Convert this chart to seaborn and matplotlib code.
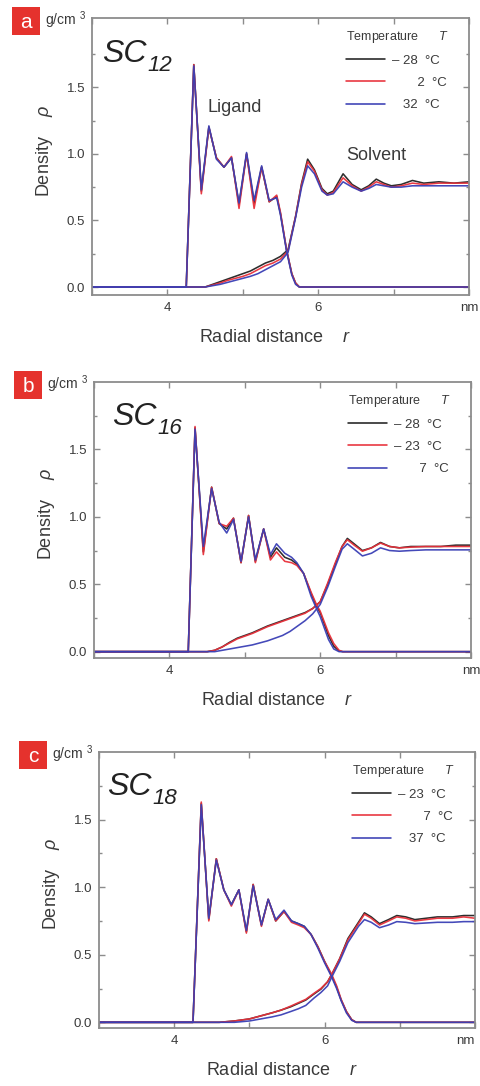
import numpy as np
import pandas as pd
import matplotlib
matplotlib.use("Agg")
import matplotlib.pyplot as plt
import seaborn as sns
from matplotlib.lines import Line2D
from matplotlib.patches import Rectangle
from matplotlib.ticker import FixedLocator, FixedFormatter

# ---------------- data ----------------
colors = ["#222222", "#e8303a", "#3a3fb5"]

# Panel a : SC12
a_temps = ["\u2013 28", "2", "32"]
a_lig_r = [3.0, 4.25, 4.35, 4.45, 4.55, 4.65, 4.75, 4.85, 4.95, 5.05, 5.15, 5.25, 5.35, 5.45, 5.5, 5.58, 5.65, 5.7, 5.75, 8.0]
a_lig_0 = [0, 0, 1.67, 0.72, 1.20, 0.97, 0.90, 0.97, 0.62, 1.00, 0.63, 0.90, 0.64, 0.68, 0.55, 0.28, 0.10, 0.03, 0, 0]
a_lig_1 = [0, 0, 1.67, 0.70, 1.20, 0.97, 0.90, 0.98, 0.59, 1.00, 0.59, 0.90, 0.64, 0.69, 0.56, 0.28, 0.10, 0.03, 0, 0]
a_lig_2 = [0, 0, 1.66, 0.73, 1.21, 0.96, 0.90, 0.97, 0.63, 1.01, 0.65, 0.91, 0.65, 0.67, 0.54, 0.27, 0.09, 0.02, 0, 0]
a_sol_r = [3.0, 4.5, 4.6, 4.7, 4.8, 4.9, 5.0, 5.1, 5.2, 5.3, 5.4, 5.5, 5.6, 5.7, 5.78, 5.86, 5.95, 6.05, 6.12, 6.2, 6.33, 6.45, 6.57, 6.67, 6.77, 6.87, 6.97, 7.1, 7.25, 7.4, 7.6, 7.8, 8.0]
a_sol_0 = [0, 0, 0.02, 0.04, 0.06, 0.08, 0.10, 0.12, 0.15, 0.18, 0.20, 0.23, 0.28, 0.53, 0.78, 0.96, 0.88, 0.74, 0.70, 0.72, 0.85, 0.77, 0.73, 0.76, 0.81, 0.78, 0.76, 0.77, 0.80, 0.78, 0.79, 0.78, 0.79]
a_sol_1 = [0, 0, 0.015, 0.03, 0.05, 0.065, 0.08, 0.10, 0.13, 0.16, 0.18, 0.21, 0.27, 0.53, 0.77, 0.94, 0.87, 0.73, 0.69, 0.71, 0.82, 0.76, 0.72, 0.75, 0.79, 0.77, 0.75, 0.76, 0.78, 0.77, 0.78, 0.78, 0.78]
a_sol_2 = [0, 0, 0.01, 0.02, 0.035, 0.05, 0.065, 0.08, 0.10, 0.13, 0.16, 0.19, 0.26, 0.52, 0.75, 0.91, 0.85, 0.72, 0.69, 0.70, 0.79, 0.75, 0.72, 0.74, 0.77, 0.76, 0.75, 0.75, 0.76, 0.76, 0.76, 0.76, 0.76]

# Panel b : SC16
b_temps = ["\u2013 28", "\u2013 23", "7"]
b_lig_r = [3.0, 4.25, 4.34, 4.45, 4.56, 4.66, 4.76, 4.85, 4.95, 5.05, 5.14, 5.25, 5.34, 5.42, 5.53, 5.62, 5.69, 5.78, 5.88, 5.95, 6.0, 6.11, 6.18, 6.25, 6.3, 8.0]
b_lig_0 = [0, 0, 1.66, 0.74, 1.22, 0.95, 0.91, 0.99, 0.66, 1.01, 0.67, 0.91, 0.70, 0.77, 0.70, 0.68, 0.65, 0.58, 0.43, 0.34, 0.29, 0.12, 0.04, 0.005, 0, 0]
b_lig_1 = [0, 0, 1.67, 0.72, 1.22, 0.95, 0.93, 0.99, 0.66, 1.01, 0.66, 0.91, 0.68, 0.74, 0.67, 0.66, 0.64, 0.58, 0.44, 0.35, 0.30, 0.14, 0.06, 0.01, 0, 0]
b_lig_2 = [0, 0, 1.65, 0.78, 1.21, 0.96, 0.88, 0.98, 0.67, 1.00, 0.68, 0.91, 0.72, 0.80, 0.73, 0.70, 0.66, 0.58, 0.41, 0.32, 0.26, 0.09, 0.02, 0, 0, 0]
b_sol_r = [3.0, 4.5, 4.6, 4.7, 4.8, 4.9, 5.0, 5.1, 5.2, 5.3, 5.4, 5.5, 5.6, 5.7, 5.8, 5.9, 6.0, 6.1, 6.2, 6.29, 6.36, 6.45, 6.56, 6.68, 6.8, 6.92, 7.05, 7.2, 7.4, 7.6, 7.8, 8.0]
b_sol_0 = [0, 0, 0.01, 0.035, 0.07, 0.10, 0.12, 0.14, 0.165, 0.19, 0.21, 0.23, 0.25, 0.27, 0.29, 0.32, 0.37, 0.50, 0.65, 0.78, 0.84, 0.80, 0.75, 0.77, 0.81, 0.78, 0.77, 0.78, 0.78, 0.78, 0.79, 0.79]
b_sol_1 = [0, 0, 0.01, 0.035, 0.065, 0.095, 0.115, 0.135, 0.16, 0.185, 0.205, 0.225, 0.245, 0.265, 0.285, 0.32, 0.37, 0.51, 0.66, 0.78, 0.83, 0.79, 0.745, 0.77, 0.805, 0.78, 0.77, 0.775, 0.78, 0.78, 0.78, 0.78]
b_sol_2 = [0, 0, 0, 0.01, 0.02, 0.03, 0.04, 0.05, 0.065, 0.08, 0.10, 0.12, 0.15, 0.19, 0.23, 0.28, 0.35, 0.48, 0.63, 0.76, 0.80, 0.76, 0.71, 0.73, 0.77, 0.75, 0.745, 0.75, 0.755, 0.755, 0.755, 0.755]

# Panel c : SC18
c_temps = ["\u2013 23", "7", "37"]
c_lig_r = [3.0, 4.25, 4.36, 4.46, 4.56, 4.66, 4.76, 4.86, 4.96, 5.05, 5.16, 5.25, 5.35, 5.46, 5.56, 5.65, 5.73, 5.82, 5.91, 6.0, 6.09, 6.16, 6.22, 6.29, 6.36, 6.42, 8.0]
c_lig_0 = [0, 0, 1.62, 0.76, 1.21, 0.98, 0.87, 0.98, 0.67, 1.02, 0.72, 0.91, 0.75, 0.82, 0.75, 0.73, 0.71, 0.65, 0.56, 0.45, 0.35, 0.26, 0.165, 0.08, 0.02, 0, 0]
c_lig_1 = [0, 0, 1.63, 0.75, 1.21, 0.98, 0.86, 0.98, 0.66, 1.02, 0.71, 0.91, 0.75, 0.82, 0.74, 0.72, 0.70, 0.65, 0.56, 0.45, 0.36, 0.27, 0.17, 0.08, 0.02, 0, 0]
c_lig_2 = [0, 0, 1.61, 0.77, 1.20, 0.98, 0.87, 0.98, 0.68, 1.01, 0.72, 0.91, 0.76, 0.83, 0.75, 0.73, 0.71, 0.65, 0.55, 0.44, 0.34, 0.25, 0.16, 0.07, 0.015, 0, 0]
c_sol_r = [3.0, 4.6, 4.8, 5.0, 5.1, 5.2, 5.3, 5.42, 5.55, 5.65, 5.75, 5.86, 5.95, 6.04, 6.1, 6.2, 6.31, 6.45, 6.53, 6.62, 6.73, 6.85, 6.96, 7.08, 7.2, 7.35, 7.5, 7.7, 7.85, 8.0]
c_sol_0 = [0, 0, 0.01, 0.025, 0.04, 0.055, 0.07, 0.09, 0.115, 0.14, 0.165, 0.21, 0.245, 0.30, 0.36, 0.47, 0.62, 0.74, 0.81, 0.78, 0.73, 0.76, 0.79, 0.78, 0.76, 0.77, 0.78, 0.78, 0.79, 0.79]
c_sol_1 = [0, 0, 0.01, 0.025, 0.04, 0.055, 0.07, 0.09, 0.12, 0.145, 0.17, 0.215, 0.25, 0.30, 0.36, 0.47, 0.61, 0.73, 0.80, 0.77, 0.72, 0.75, 0.78, 0.77, 0.75, 0.76, 0.77, 0.77, 0.78, 0.77]
c_sol_2 = [0, 0, 0, 0.01, 0.02, 0.03, 0.04, 0.055, 0.08, 0.10, 0.125, 0.18, 0.22, 0.27, 0.34, 0.45, 0.59, 0.71, 0.76, 0.74, 0.70, 0.72, 0.745, 0.74, 0.73, 0.735, 0.74, 0.74, 0.745, 0.745]

x_ticks = [3, 4, 5, 6, 7, 8]
x_ticklabels = ["", "4", "", "6", "", ""]
y_ticks = [0, 0.5, 1.0, 1.5]
y_ticklabels = ["0.0", "0.5", "1.0", "1.5"]

panels = [
    dict(letter="a", sub="12", temps=a_temps,
         lig=(a_lig_r, [a_lig_0, a_lig_1, a_lig_2]), sol=(a_sol_r, [a_sol_0, a_sol_1, a_sol_2]),
         rect=[92, 18, 469, 295], ylim=(-0.06, 2.02), annot=True, sc_x=102, sc_base=62),
    dict(letter="b", sub="16", temps=b_temps,
         lig=(b_lig_r, [b_lig_0, b_lig_1, b_lig_2]), sol=(b_sol_r, [b_sol_0, b_sol_1, b_sol_2]),
         rect=[94, 382, 471, 658], ylim=(-0.047, 2.0), annot=False, sc_x=112, sc_base=425),
    dict(letter="c", sub="18", temps=c_temps,
         lig=(c_lig_r, [c_lig_0, c_lig_1, c_lig_2]), sol=(c_sol_r, [c_sol_0, c_sol_1, c_sol_2]),
         rect=[99, 752, 475, 1028], ylim=(-0.042, 2.0), annot=False, sc_x=107, sc_base=795),
]

# ---------------- style ----------------
sns.set_theme(style="white")
plt.rcParams["font.family"] = ["Liberation Sans", "DejaVu Sans"]
plt.rcParams["mathtext.fontset"] = "custom"
plt.rcParams["mathtext.rm"] = "Liberation Sans"
plt.rcParams["mathtext.it"] = "Liberation Sans:italic"
plt.rcParams["mathtext.bf"] = "Liberation Sans:bold"

W, H = 481, 1086
fig = plt.figure(figsize=(W / 100, H / 100), dpi=100)
fig.patch.set_facecolor("white")
renderer = fig.canvas.get_renderer()

frame_col = "#8c8c8c"
text_col = "#3a3a3a"

for p in panels:
    x0, y0, x1, y1 = p["rect"]
    ax = fig.add_axes([x0 / W, 1 - y1 / H, (x1 - x0) / W, (y1 - y0) / H])

    rows = []
    for part, (rr, series) in (("lig", p["lig"]), ("sol", p["sol"])):
        for t, vals in zip(p["temps"], series):
            for r, v in zip(rr, vals):
                rows.append(dict(r=r, rho=v, T=t, part=part))
    df = pd.DataFrame(rows)

    sns.lineplot(data=df, x="r", y="rho", hue="T", units="part", estimator=None,
                 hue_order=p["temps"], palette=colors, legend=False, sort=False,
                 linewidth=1.15, alpha=0.95, ax=ax)

    ax.set_xlim(3, 8)
    ax.set_ylim(*p["ylim"])
    ax.xaxis.set_major_locator(FixedLocator(x_ticks))
    ax.xaxis.set_major_formatter(FixedFormatter(x_ticklabels))
    ax.yaxis.set_major_locator(FixedLocator(y_ticks))
    ax.yaxis.set_major_formatter(FixedFormatter(y_ticklabels))
    ax.yaxis.set_minor_locator(FixedLocator([0.25, 0.75, 1.25, 1.75]))
    ax.tick_params(axis="both", which="both", direction="in", top=True, right=True,
                   bottom=True, left=True, color=frame_col, labelcolor=text_col,
                   labelsize=9.5, pad=5)
    ax.tick_params(which="major", length=4, width=1)
    ax.tick_params(which="minor", length=2.5, width=1)
    for s in ax.spines.values():
        s.set_color(frame_col)
        s.set_linewidth(1.3)

    # unit at right end of x axis
    ax.text(1.0, -0.048, "nm", transform=ax.transAxes, fontsize=9.5, color=text_col,
            ha="center" if p["letter"] != "c" else "right", va="center")

    ax.set_xlabel("Radial distance    $r$", fontsize=13, color=text_col)
    ax.set_ylabel("Density    $\\rho$", fontsize=13, color=text_col)
    ax.xaxis.set_label_coords(0.485, -0.155)
    ax.xaxis.label.set_va("center")
    ax.yaxis.set_label_coords(-0.125, 0.52)
    ax.yaxis.label.set_va("center")

    # SC label (italic, with lowered italic subscript)
    t_sc = fig.text(p["sc_x"] / W, 1 - p["sc_base"] / H, "SC", fontsize=23, style="italic",
                    color="#222222", ha="left", va="baseline")
    bb = t_sc.get_window_extent(renderer)
    fig.text((bb.x1 + 1) / W, 1 - (p["sc_base"] + 9) / H, p["sub"], fontsize=16,
             style="italic", color="#222222", ha="left", va="baseline")

    if p["annot"]:
        ax.text(4.53, 1.35, "Ligand", fontsize=13, color=text_col, va="center", ha="left")
        ax.text(6.37, 0.99, "Solvent", fontsize=13, color=text_col, va="center", ha="left")

    # legend
    handles = [Line2D([], [], color=c, lw=1.15) for c in colors]
    labels = []
    for t in p["temps"]:
        pad = "" if len(t) > 2 else ("   " if len(t) == 2 else "       ")
        labels.append(pad + t + "  \u00b0C")
    leg = ax.legend(handles, labels, title="Temperature      $T$", loc="upper left",
                    bbox_to_anchor=(0.655, 0.985), frameon=False, fontsize=9.5,
                    title_fontsize=9, handlelength=3.0, handletextpad=0.5,
                    labelspacing=0.75, borderpad=0, alignment="left")
    for txt in leg.get_texts():
        txt.set_color(text_col)
    leg.get_title().set_color(text_col)

    # panel letter box + unit
    bx0 = (x0 - 80) / W
    by_top = y0 - 11
    fig.patches.append(Rectangle((bx0, 1 - (by_top + 28) / H), 28 / W, 28 / H,
                                 transform=fig.transFigure, facecolor="#e5322d",
                                 edgecolor="none"))
    fig.text(bx0 + 14 / W, 1 - (by_top + 15) / H, p["letter"], color="white",
             fontsize=15, ha="center", va="center")
    fig.text((x0 - 47) / W, 1 - (by_top + 13) / H, "g/cm $^{3}$", fontsize=10,
             color=text_col, ha="left", va="center")

fig.savefig("out.png", dpi=100, facecolor="white")
